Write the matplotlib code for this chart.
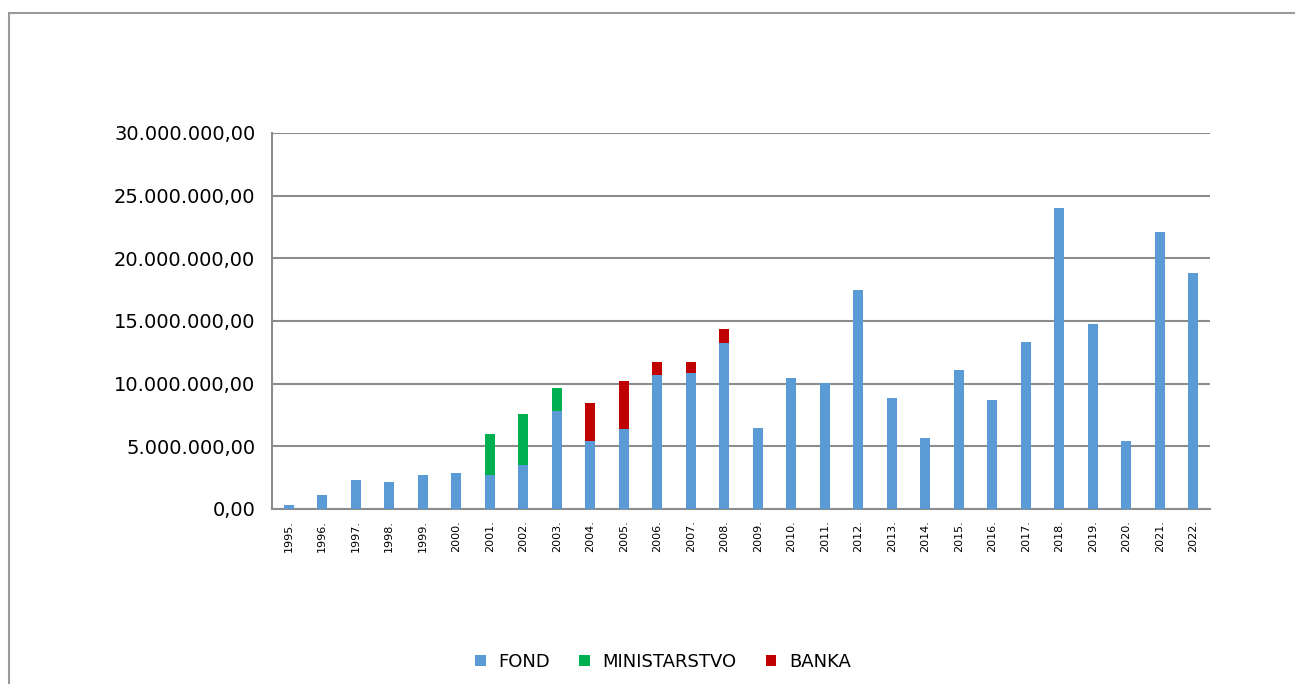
import matplotlib.pyplot as plt
from matplotlib.patches import Rectangle
from matplotlib.ticker import FuncFormatter
import numpy as np

years = ['1995.', '1996.', '1997.', '1998.', '1999.', '2000.', '2001.', '2002.',
         '2003.', '2004.', '2005.', '2006.', '2007.', '2008.', '2009.', '2010.',
         '2011.', '2012.', '2013.', '2014.', '2015.', '2016.', '2017.', '2018.',
         '2019.', '2020.', '2021.', '2022.']

fond = [0.33, 1.12, 2.30, 2.16, 2.70, 2.85, 2.72, 3.52, 7.84, 5.44, 6.40, 10.72,
        10.83, 13.23, 6.50, 10.45, 10.07, 17.50, 8.85, 5.70, 11.12, 8.72, 13.33,
        24.05, 14.80, 5.44, 22.10, 18.85]
ministarstvo = [0, 0, 0, 0, 0, 0, 3.28, 4.05, 1.81, 0, 0, 0, 0, 0,
                0, 0, 0, 0, 0, 0, 0, 0, 0, 0, 0, 0, 0, 0]
banka = [0, 0, 0, 0, 0, 0, 0, 0, 0, 3.01, 3.79, 1.04, 0.93, 1.17,
         0, 0, 0, 0, 0, 0, 0, 0, 0, 0, 0, 0, 0, 0]

# millions -> units
fond = np.array(fond) * 1e6
ministarstvo = np.array(ministarstvo) * 1e6
banka = np.array(banka) * 1e6

fig = plt.figure(figsize=(12.95, 6.84), dpi=100)
ax = fig.add_axes([272/1295, 1 - 509/684, (1210-272)/1295, (509-133)/684])

x = np.arange(len(years))
w = 0.3
ax.bar(x, fond, w, color='#5b9bd5', label='FOND', zorder=3)
ax.bar(x, ministarstvo, w, bottom=fond, color='#00b050', label='MINISTARSTVO', zorder=3)
ax.bar(x, banka, w, bottom=fond + ministarstvo, color='#c00000', label='BANKA', zorder=3)

ax.set_xlim(-0.5, len(years) - 0.5)
ax.set_ylim(0, 30e6)
ax.set_yticks(np.arange(0, 30e6 + 1, 5e6))

def fmt(v, pos):
    s = '{:,.2f}'.format(v)
    return s.replace(',', 'X').replace('.', ',').replace('X', '.')

ax.yaxis.set_major_formatter(FuncFormatter(fmt))
ax.tick_params(axis='y', labelsize=14, length=0, pad=12)
ax.set_xticks(x)
ax.set_xticklabels(years, rotation=90, fontsize=8, family=['Liberation Sans Narrow', 'DejaVu Sans'])
ax.tick_params(axis='x', length=0, pad=8)
ax.grid(axis='y', color='#8c8c8c', linewidth=1.5, zorder=0)
for s in ['top', 'right']:
    ax.spines[s].set_visible(False)
ax.spines['left'].set_color('#8c8c8c')
ax.spines['bottom'].set_color('#8c8c8c')
ax.spines['left'].set_linewidth(1.5)
ax.spines['bottom'].set_linewidth(1.5)

fig.legend(loc='center', bbox_to_anchor=(663/1295, 1 - 662/684), ncol=3, frameon=False,
           fontsize=13, handlelength=0.6, handleheight=0.6, columnspacing=1.6, handletextpad=0.7)

fig.patches.append(Rectangle((9/1295, -0.05), 1.1, 1 - 13/684 + 0.05, transform=fig.transFigure,
                             fill=False, edgecolor='#9a9a9a', linewidth=1.5))

plt.savefig('out.png')
